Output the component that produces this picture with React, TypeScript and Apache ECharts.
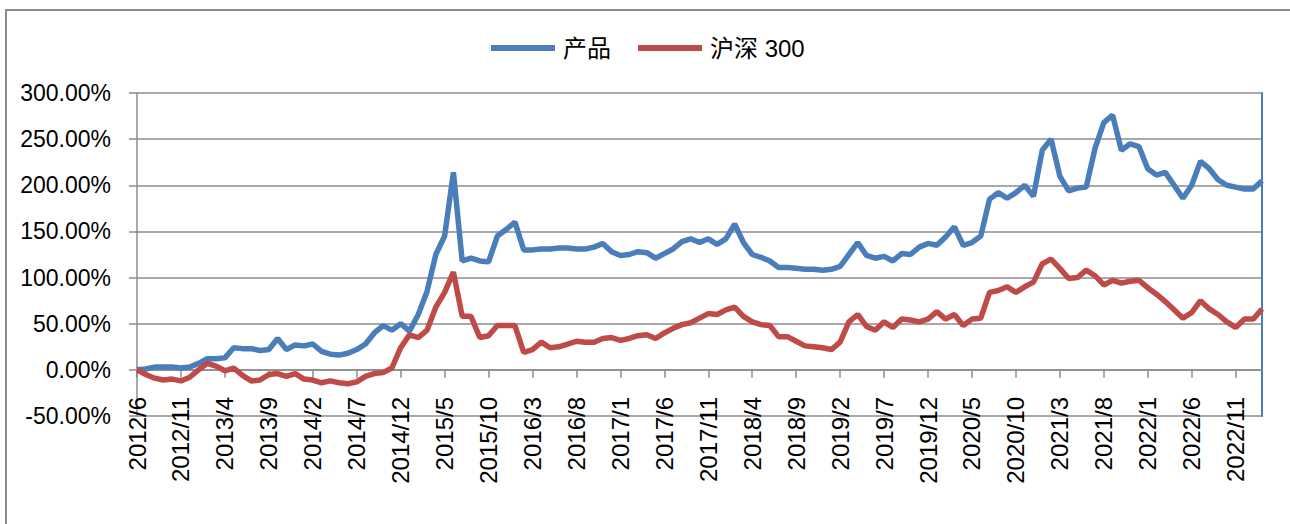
import React, { useEffect, useRef } from "react";
import * as echarts from "echarts";

// Monthly categories 2012/6 .. 2023/2
const START_YEAR = 2012;
const START_MONTH = 6;
const MONTH_COUNT = 129;
const months: string[] = [];
for (let i = 0; i < MONTH_COUNT; i++) {
  const t = START_MONTH - 1 + i;
  months.push(`${START_YEAR + Math.floor(t / 12)}/${(t % 12) + 1}`);
}

const seriesNames = ["产品", "沪深 300"];

const product: number[] = [
  0, 1, 3, 3, 3, 2, 3, 7, 12, 12, 13, 24, 23, 23, 21, 22, 34, 22, 27, 26,
  28, 20, 17, 16, 18, 22, 28, 40, 48, 43, 50, 42, 60, 85, 125, 145, 214, 118, 121, 118,
  117, 145, 152, 160, 130, 130, 131, 131, 132, 132, 131, 131, 133, 137, 128, 124, 125, 128, 127, 121,
  126, 131, 139, 142, 138, 142, 136, 142, 158, 138, 125, 122, 118, 111, 111, 110, 109, 109, 108, 109,
  112, 125, 138, 124, 121, 123, 118, 126, 125, 133, 137, 135, 144, 155, 135, 138, 145, 185, 192, 186,
  192, 200, 188, 238, 250, 210, 194, 197, 198, 240, 268, 276, 238, 245, 242, 218, 211, 214, 200, 186,
  200, 226, 218, 206, 200, 198, 196, 196, 205,
];

const hs300: number[] = [
  0, -5, -9, -11, -10, -12, -8, 0, 7, 4, -1, 2, -6, -12, -11, -5, -4, -7, -4, -10,
  -11, -14, -12, -14, -15, -13, -7, -4, -3, 2, 24, 38, 35, 43, 68, 84, 106, 58, 58, 35,
  37, 48, 48, 48, 19, 22, 30, 24, 25, 28, 31, 30, 30, 34, 35, 32, 34, 37, 38, 34,
  40, 45, 49, 51, 56, 61, 60, 65, 68, 58, 52, 49, 48, 36, 36, 31, 26, 25, 24, 22,
  30, 52, 60, 47, 43, 52, 46, 55, 54, 52, 55, 63, 55, 60, 48, 55, 56, 84, 86, 90,
  84, 90, 95, 115, 120, 110, 99, 100, 108, 102, 92, 97, 94, 96, 97, 89, 82, 74, 65, 56,
  62, 75, 66, 60, 52, 46, 55, 55, 66,
];

const yTicks = { min: -50, max: 300, interval: 50 };

const BLUE = "#4A7EBB";
const RED = "#BE4B48";
const GRID = "#8C8C8C";
const FONT = "'Liberation Sans', 'Noto Sans CJK SC', sans-serif";

export default function App() {
  const ref = useRef<HTMLDivElement>(null);
  useEffect(() => {
    if (!ref.current) return;
    const chart = echarts.init(ref.current, undefined, { renderer: "svg" });
    chart.setOption({
      animation: false,
      backgroundColor: "#ffffff",
      graphic: [
        {
          type: "rect",
          shape: { x: 6, y: 10, width: 1300, height: 600 },
          style: { fill: "none", stroke: GRID, lineWidth: 2 },
          silent: true,
        },
      ],
      legend: {
        data: seriesNames,
        left: 491,
        top: 36,
        padding: 0,
        itemWidth: 64,
        itemHeight: 6,
        itemGap: 27,
        icon: "rect",
        textStyle: { fontSize: 24, color: "#000", fontFamily: FONT, padding: [0, 0, 0, 3] },
      },
      grid: {
        left: 137,
        right: 28,
        top: 93,
        bottom: 108,
        containLabel: false,
        outerBoundsMode: "none",
      },
      xAxis: {
        type: "category",
        data: months,
        boundaryGap: false,
        axisLine: { onZero: true, lineStyle: { color: GRID, width: 1.5 } },
        axisTick: { show: true, interval: 4, length: 8, lineStyle: { color: GRID, width: 1.5 } },
        axisLabel: {
          interval: 4,
          rotate: 90,
          margin: -19,
          fontSize: 24,
          color: "#000",
          fontFamily: FONT,
          padding: [0, 0, 9, 0],
        },
        splitLine: { show: false },
      },
      yAxis: [
        {
          type: "value",
          min: yTicks.min,
          max: yTicks.max,
          interval: yTicks.interval,
          axisLine: { show: true, lineStyle: { color: GRID, width: 1.5 } },
          axisTick: { show: true, length: 8, lineStyle: { color: GRID, width: 1.5 } },
          axisLabel: {
            margin: 26,
            fontSize: 23,
            color: "#000",
            fontFamily: FONT,
            formatter: (v: number) => v.toFixed(2) + "%",
          },
          splitLine: { show: true, lineStyle: { color: GRID, width: 1.5 } },
        },
        {
          type: "value",
          position: "right",
          min: yTicks.min,
          max: yTicks.max,
          interval: yTicks.interval,
          axisLine: { show: true, lineStyle: { color: BLUE, width: 2 } },
          axisTick: { show: false },
          axisLabel: { show: false },
          splitLine: { show: false },
        },
      ],
      series: [
        {
          name: seriesNames[0],
          type: "line",
          data: product,
          showSymbol: false,
          symbol: "none",
          lineStyle: { color: BLUE, width: 5.5 },
          itemStyle: { color: BLUE },
        },
        {
          name: seriesNames[1],
          type: "line",
          data: hs300,
          showSymbol: false,
          symbol: "none",
          lineStyle: { color: RED, width: 5.5 },
          itemStyle: { color: RED },
        },
      ],
    });
    return () => chart.dispose();
  }, []);
  return (
    <div
      ref={ref}
      style={{ position: "absolute", left: 0, top: 0, width: 1290, height: 524 }}
    />
  );
}
